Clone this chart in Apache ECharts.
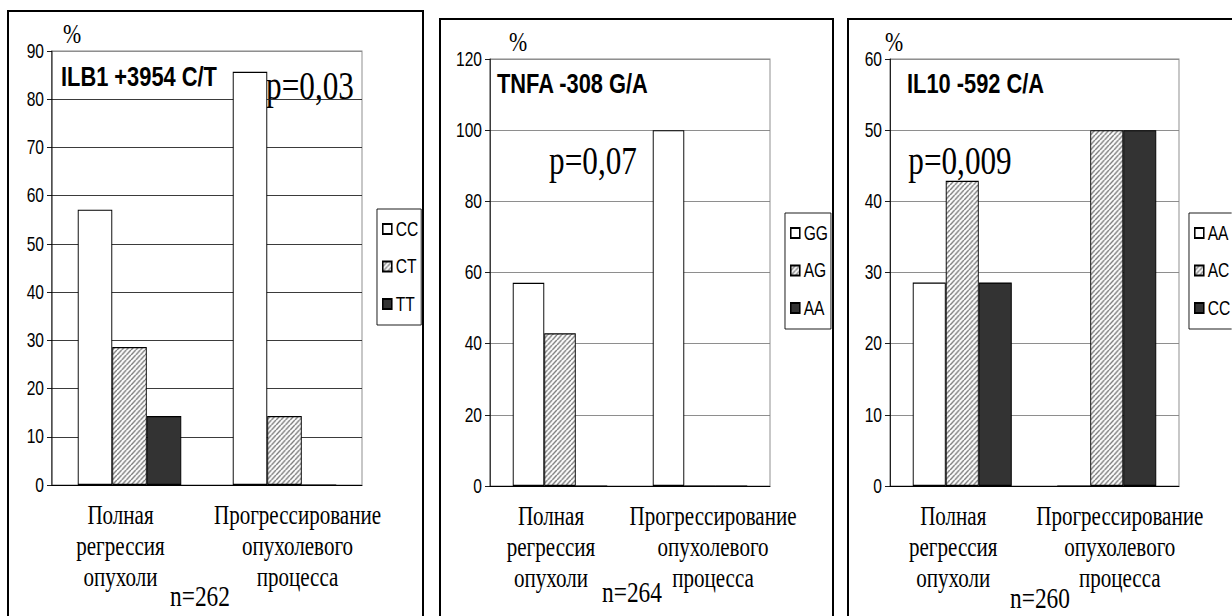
<!DOCTYPE html>
<html><head><meta charset="utf-8">
<script src="https://cdn.jsdelivr.net/npm/echarts@6/dist/echarts.min.js"></script>
<style>
html,body{margin:0;padding:0;background:#fff;width:1232px;height:616px;overflow:hidden;}
#wrap{position:absolute;left:0;top:0;width:1232px;height:616px;overflow:hidden;background:#fff;}
#chart{position:absolute;left:0;top:0;height:616px;transform-origin:0 0;}
.frame{position:absolute;border:2px solid #000;box-sizing:border-box;}
</style></head>
<body>
<div id="wrap">
<div id="chart"></div>
<div class="frame" style="left:7px;top:10px;width:417px;height:650px"></div>
<div class="frame" style="left:439px;top:18px;width:395px;height:650px"></div>
<div class="frame" style="left:847px;top:18px;width:420px;height:650px"></div>
</div>
<script>
// ---- data ----
const categories = ['Полная\nрегрессия\nопухоли', 'Прогрессирование\nопухолевого\nпроцесса'];
const titles = ['ILB1 +3954 C/T', 'TNFA -308 G/A', 'IL10 -592 C/A'];
const pValues = ['p=0,03', 'p=0,07', 'p=0,009'];
const nLabels = ['n=262', 'n=264', 'n=260'];
const genotypes1 = ['CC', 'CT', 'TT'];
const genotypes2 = ['GG', 'AG', 'AA'];
const genotypes3 = ['AA', 'AC', 'CC'];
const il1bCC = [57.1, 85.7];
const il1bCT = [28.6, 14.3];
const il1bTT = [14.3, 0];
const tnfaGG = [57.1, 100];
const tnfaAG = [42.9, 0];
const tnfaAA = [0, 0];
const il10AA = [28.6, 0];
const il10AC = [42.9, 50];
const il10CC = [28.6, 50];
const yMax = [90, 120, 60];
const yStep = [10, 20, 10];

// ---- layout (horizontal compression to mimic narrow glyphs) ----
const S = 0.78;
const X = px => px / S;
const el = document.getElementById('chart');
el.style.width = (1232 / S) + 'px';
el.style.transform = 'scaleX(' + S + ')';

function hatch() {
  const w = 6, h = 5;
  const c = document.createElement('canvas');
  c.width = w; c.height = h;
  const g = c.getContext('2d');
  g.fillStyle = '#fff'; g.fillRect(0, 0, w, h);
  g.strokeStyle = '#7a7a7a'; g.lineWidth = 1.6;
  for (const dx of [-w, 0, w]) {
    g.beginPath(); g.moveTo(dx, h); g.lineTo(dx + w, 0); g.stroke();
  }
  return { image: c, repeat: 'repeat' };
}
const fills = ['#ffffff', hatch(), '#333333'];

const panels = [
  { gl: 52, gr: 362, gt: 51, gb: 485, bw: 34.5, lx: 377, ly: 209, tx: 61, ty: 62,
    px: 310, py: 86, nx: 200, ny: 596, cx: 72, cy: 34, split: '#222',
    geno: genotypes1, vals: [il1bCC, il1bCT, il1bTT] },
  { gl: 490, gr: 770, gt: 59, gb: 486, bw: 31.5, lx: 785, ly: 213, tx: 497, ty: 69,
    px: 593, py: 161, nx: 632, ny: 592, cx: 518, cy: 42, split: '#808080',
    geno: genotypes2, vals: [tnfaGG, tnfaAG, tnfaAA] },
  { gl: 890, gr: 1179, gt: 59, gb: 486, bw: 33, lx: 1189, ly: 213, tx: 907, ty: 69,
    px: 960, py: 161, nx: 1040, ny: 598, cx: 894, cy: 42, split: '#808080',
    geno: genotypes3, vals: [il10AA, il10AC, il10CC] }
];

const grid = [], xAxis = [], yAxis = [], series = [], legend = [], title = [], graphic = [];
panels.forEach((p, i) => {
  grid.push({ left: X(p.gl), width: X(p.gr - p.gl), top: p.gt, height: p.gb - p.gt,
    show: true, borderColor: '#888', borderWidth: 1.2, backgroundColor: 'transparent' });
  xAxis.push({ type: 'category', gridIndex: i, data: categories,
    axisLine: { lineStyle: { color: '#000', width: 1.2 } },
    axisTick: { length: 5, lineStyle: { color: '#000', width: 1.2 } },
    axisLabel: { margin: 14, color: '#000', interval: 0, hideOverlap: false,
      formatter: (v, idx) => v.split('\n').map(l => '{' + (idx === 0 ? 'a' : 'b') + '|' + l + '}').join('\n'),
      rich: {
        a: { fontFamily: 'Liberation Serif', fontSize: 27, lineHeight: 31, color: '#000', padding: [0, X(18), 0, 0] },
        b: { fontFamily: 'Liberation Serif', fontSize: 27, lineHeight: 31, color: '#000', padding: [0, 0, 0, X(26)] }
      } } });
  const n = yMax[i] / yStep[i];
  const cols = [];
  for (let k = 0; k <= n; k++) cols.push(k === n ? '#888' : p.split);
  yAxis.push({ type: 'value', gridIndex: i, min: 0, max: yMax[i], interval: yStep[i],
    axisLine: { show: true, lineStyle: { color: '#000', width: 1.2 } },
    axisTick: { show: true, length: X(5), lineStyle: { color: '#000' } },
    axisLabel: { margin: X(8), color: '#000', fontFamily: 'Liberation Sans', fontSize: 20 },
    splitLine: { show: true, lineStyle: { color: cols, width: 1 } } });
  const names = [];
  p.geno.forEach((g, j) => {
    const nm = 'p' + i + ':' + g;
    names.push(nm);
    series.push({ type: 'bar', name: nm, xAxisIndex: i, yAxisIndex: i, data: p.vals[j],
      barWidth: X(p.bw), barGap: '0%', silent: true,
      itemStyle: { color: fills[j], borderColor: '#000', borderWidth: 1.2 } });
  });
  legend.push({ data: names, orient: 'vertical', left: X(p.lx), top: p.ly, icon: 'rect',
    itemWidth: X(9), itemHeight: 10, itemGap: 17.5, selectedMode: false,
    padding: [10, X(3), 11, X(5)], borderColor: '#000', borderWidth: 1,
    formatter: nm => nm.split(':')[1],
    textStyle: { fontFamily: 'Liberation Sans', fontSize: 20, color: '#000', padding: [0, 0, 0, 0] } });
  title.push({ text: titles[i], left: X(p.tx), top: p.ty, padding: 0,
    textStyle: { fontFamily: 'Liberation Sans', fontWeight: 'bold', fontSize: 28, color: '#000' } });
  graphic.push({ type: 'text', x: X(p.px), y: p.py, silent: true,
    style: { text: pValues[i], fontFamily: 'Liberation Serif', fontSize: 40, fill: '#000', align: 'center', verticalAlign: 'middle' } });
  graphic.push({ type: 'text', x: X(p.nx), y: p.ny, silent: true,
    style: { text: nLabels[i], fontFamily: 'Liberation Serif', fontSize: 30, fill: '#000', align: 'center', verticalAlign: 'middle' } });
  graphic.push({ type: 'text', x: X(p.cx), y: p.cy, silent: true,
    style: { text: '%', fontFamily: 'Liberation Serif', fontSize: 28, fill: '#000', align: 'center', verticalAlign: 'middle' } });
});

const chart = echarts.init(el, null, { renderer: 'svg' });
chart.setOption({ animation: false, backgroundColor: '#fff', grid, xAxis, yAxis, series, legend, title, graphic });
</script>
</body></html>
